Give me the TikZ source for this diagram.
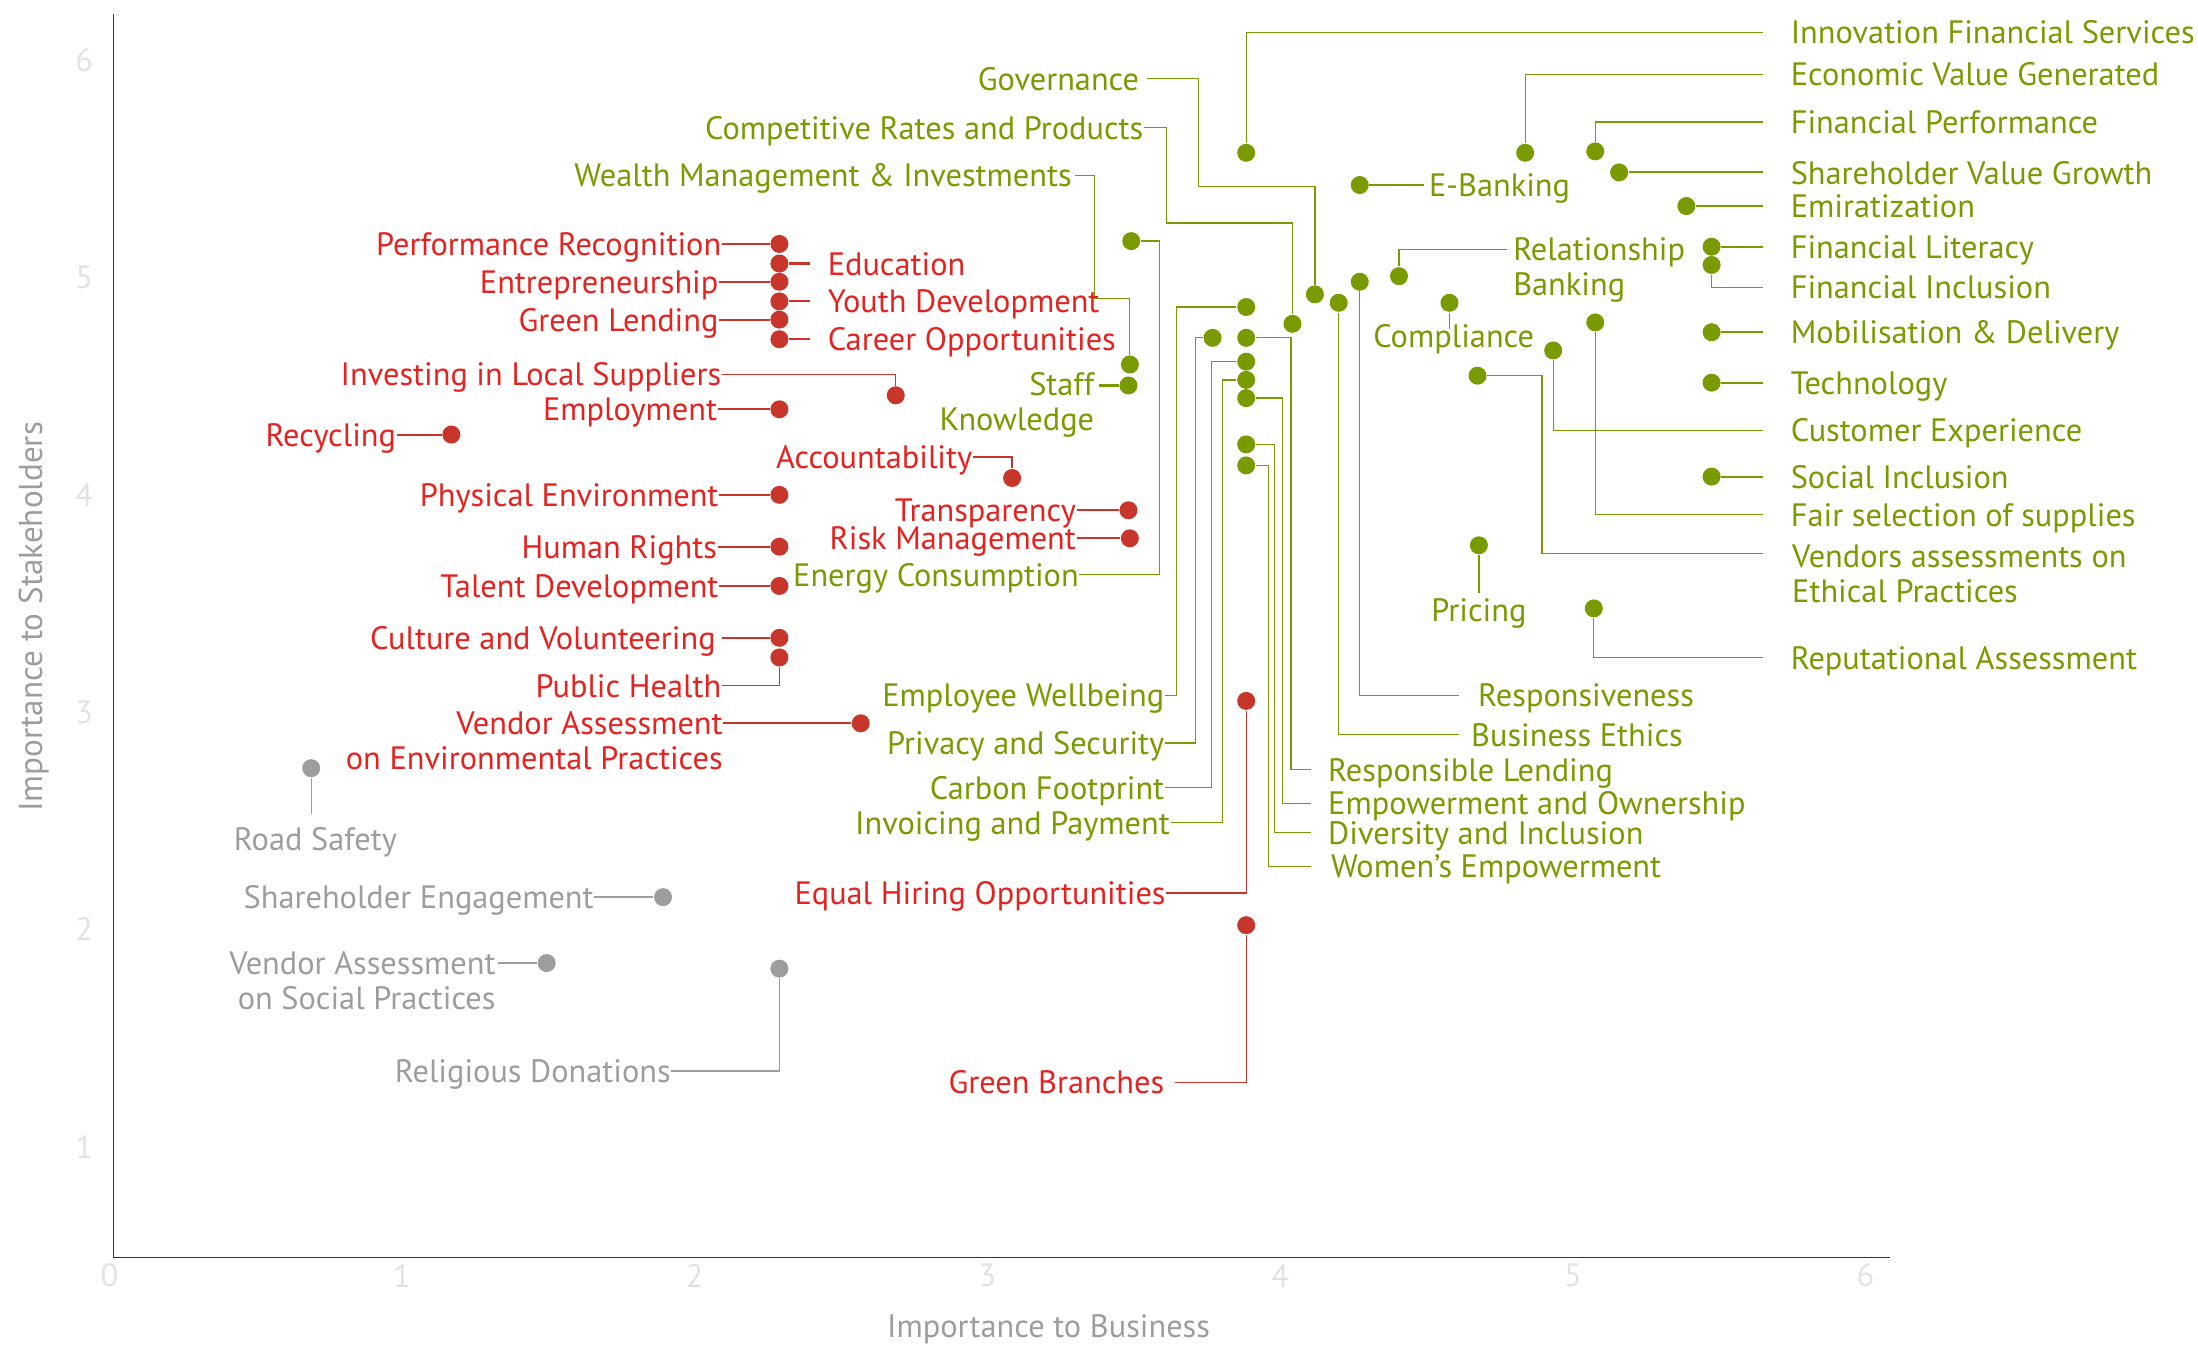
\documentclass[tikz,border=0pt]{standalone}
\usepackage{fontspec}
\setmainfont{PT Sans}
\usetikzlibrary{calc}
\definecolor{mgreen}{HTML}{7A9A01}
\definecolor{mred}{HTML}{E42320}
\definecolor{mreddot}{HTML}{C8352B}
\definecolor{mgray}{HTML}{9D9D9D}
\definecolor{mtick}{HTML}{E2E2E2}
\definecolor{maxis}{HTML}{26306B}
\begin{document}
\begin{tikzpicture}[x=0.014cm,y=-0.014cm,font=\fontsize{9.2pt}{10pt}\selectfont,
  every node/.style={inner sep=0pt},
  gdot/.style={circle,fill=mgreen,minimum size=0.18cm},
  rdot/.style={circle,fill=mreddot,minimum size=0.18cm},
  ydot/.style={circle,fill=mgray,minimum size=0.18cm},
  lab/.style={text height=8.6pt,text depth=2pt},
  glab/.style={lab,text=mgreen},
  rlab/.style={lab,text=mred},
  ylab/.style={lab,text=mgray},
  under/.style={text height=5pt},
  gline/.style={draw=mgreen,line width=0.35pt},
  gthick/.style={draw=mgreen,line width=0.6pt},
  rline/.style={draw=mreddot,line width=0.35pt},
  rthick/.style={draw=mreddot,line width=0.6pt},
  yline/.style={draw=mgray,line width=0.35pt},
  ythick/.style={draw=mgray,line width=0.6pt},
  tocol/.style={shorten >=0.27cm}]
\useasboundingbox (0,0) rectangle (1568,961);

% axes
\draw[maxis,line width=0.5pt] (81,10) |- (1348,897);
\foreach \v in {1,...,6} \node[text=mtick] (yt\v) at (60,973-155*\v) {\v};
\foreach \v in {0,...,6} \node[text=mtick] (xt\v) at (78+208.8*\v,910) {\v};
\node[text=mgray] (xtitle) at (748,948) {Importance to Business};
\node[text=mgray,rotate=90,font=\fontsize{9.4pt}{11pt}\selectfont] (ytitle) at (24,440) {Importance to Stakeholders};

% right column
\node[gdot] (innovD) at (889,109) {};
\node[glab,anchor=west] (innovL) at (1277,23) {Innovation Financial Services};
\draw[gline,tocol] (innovD) |- (innovL);
\node[gdot] (econD) at (1088,109) {};
\node[glab,anchor=west] (econL) at (1277,53) {Economic Value Generated};
\draw[gline,tocol] (econD) |- (econL);
\node[gdot] (finPerfD) at (1138,108) {};
\node[glab,anchor=west] (finPerfL) at (1277,87) {Financial Performance};
\draw[gline,tocol] (finPerfD) |- (finPerfL);
\node[gdot] (shareD) at (1155,123) {};
\node[glab,anchor=west] (shareL) at (1277,123) {Shareholder Value Growth};
\draw[gthick,tocol] (shareD) -- (shareL);
\node[gdot] (emirD) at (1203,147) {};
\node[glab,anchor=west] (emirL) at (1277,147) {Emiratization};
\draw[gthick,tocol] (emirD) -- (emirL);
\node[gdot] (finLitD) at (1221,176) {};
\node[glab,anchor=west] (finLitL) at (1277,176) {Financial Literacy};
\draw[gthick,tocol] (finLitD) -- (finLitL);
\node[gdot] (finInD) at (1221,189) {};
\node[glab,anchor=west] (finInL) at (1277,205) {Financial Inclusion};
\draw[gline,tocol] (finInD) |- (finInL);
\node[gdot] (mobD) at (1221,237) {};
\node[glab,anchor=west] (mobL) at (1277,237) {Mobilisation \& Delivery};
\draw[gthick,tocol] (mobD) -- (mobL);
\node[gdot] (techD) at (1221,273) {};
\node[glab,anchor=west] (techL) at (1277,273) {Technology};
\draw[gthick,tocol] (techD) -- (techL);
\node[gdot] (custD) at (1108,250) {};
\node[glab,anchor=west] (custL) at (1277,307) {Customer Experience};
\draw[gline,tocol] (custD) |- (custL);
\node[gdot] (socD) at (1221,340) {};
\node[glab,anchor=west] (socL) at (1277,340) {Social Inclusion};
\draw[gthick,tocol] (socD) -- (socL);
\node[gdot] (fairD) at (1138,230) {};
\node[glab,anchor=west] (fairL) at (1277,367) {Fair selection of supplies};
\draw[gline,tocol] (fairD) |- (fairL);
\node[gdot] (vendEthD) at (1054,268) {};
\node[text=mgreen,align=left,anchor=base west] (vendEthL) at (1278,430) {Vendors assessments on\\Ethical Practices};
\draw[gline] (vendEthD) -| (1100,395) -- ($(vendEthL.base west)+(-20,-35)$);
\node[gdot] (repD) at (1137,434) {};
\node[glab,anchor=west] (repL) at (1277,469) {Reputational Assessment};
\draw[gline,tocol] (repD) |- (repL);

% middle green
\node[gdot] (ebD) at (970,132) {};
\node[glab,anchor=west] (ebL) at (1019,132) {E-Banking};
\draw[gthick,shorten >=0.04cm] (ebD) -- (ebL);
\node[gdot] (relD) at (998,197) {};
\node[text=mgreen,align=left,anchor=base west] (relL) at (1079,211) {Relationship\\Banking};
\draw[gline] (relD) |- ($(relL.base west)+(-4,-33)$);
\node[gdot] (compD) at (1034,216) {};
\node[glab,under,anchor=north] (compL) at (1037,235) {Compliance};
\draw[gline] (compD) -- (compD |- compL.north);
\node[gdot] (priceD) at (1055,389) {};
\node[glab,under,anchor=north] (priceL) at (1055,430) {Pricing};
\draw[gline,shorten >=0.1cm] (priceD) -- (priceL);
\node[gdot] (respD) at (970,201) {};
\node[glab,anchor=west] (respL) at (1054,496) {Responsiveness};
\draw[gline,shorten >=0.18cm] (respD) |- (respL);
\node[gdot] (ethD) at (955,216) {};
\node[glab,anchor=west] (ethL) at (1049,524) {Business Ethics};
\draw[gline,shorten >=0.11cm] (ethD) |- (ethL);
\node[gdot] (govD) at (938,210) {};
\node[glab,anchor=east] (govL) at (813,56) {Governance};
\draw[gline,shorten <=0.07cm] (govL) -| (855,133) -| (govD);
\node[gdot] (crD) at (922,231) {};
\node[glab,anchor=east] (crL) at (816,91) {Competitive Rates and Products};
\draw[gline] (crL) -| (832,159) -| (crD);
\node[gdot] (wmD) at (806,260) {};
\node[glab,anchor=east] (wmL) at (765,125) {Wealth Management \& Investments};
\draw[gline,shorten <=0.03cm] (wmL) -| (781,213) -| (wmD);
\node[gdot] (stD) at (805,275) {};
\node[text=mgreen,align=right,anchor=base east] (stL) at (781,307) {Staff\\Knowledge};
\draw[gthick] ($(stL.base east)+(3,-32)$) -- (stD);
\node[gdot] (enD) at (807,172) {};
\node[glab,anchor=east] (enL) at (770,410) {Energy Consumption};
\draw[gline] (enL) -| (827,172) -- (enD);
\node[gdot] (ewD) at (889,219) {};
\node[glab,anchor=east] (ewL) at (831,496) {Employee Wellbeing};
\draw[gline] (ewL) -| (839,219) -- (ewD);
\node[gdot] (psD) at (865,241) {};
\node[glab,anchor=east] (psL) at (831,530) {Privacy and Security};
\draw[gline] (psL) -| (853,241) -- (psD);
\node[gdot] (cfD) at (889,258) {};
\node[glab,anchor=east] (cfL) at (831,562) {Carbon Footprint};
\draw[gline] (cfL) -| (864,258) -- (cfD);
\node[gdot] (ipD) at (889,271) {};
\node[glab,anchor=east] (ipL) at (835,587) {Invoicing and Payment};
\draw[gline] (ipL) -| (872,271) -- (ipD);
\node[gdot] (rlD) at (889,241) {};
\node[glab,anchor=west] (rlL) at (947,549) {Responsible Lending};
\draw[gline,shorten >=0.17cm] (rlD) -| (921,549) -- (rlL);
\node[gdot] (eoD) at (889,284) {};
\node[glab,anchor=west] (eoL) at (947,573) {Empowerment and Ownership};
\draw[gline,shorten >=0.17cm] (eoD) -| (915,573) -- (eoL);
\node[gdot] (diD) at (889,317) {};
\node[glab,anchor=west] (diL) at (947,594) {Diversity and Inclusion};
\draw[gline,shorten >=0.17cm] (diD) -| (909,594) -- (diL);
\node[gdot] (weD) at (889,332) {};
\node[glab,anchor=west] (weL) at (949,618) {Women’s Empowerment};
\draw[gline,shorten >=0.19cm] (weD) -| (905,618) -- (weL);

% red
\node[rdot] (perfD) at (556,174) {};
\node[rlab,anchor=east] (perfL) at (515,174) {Performance Recognition};
\draw[rthick] (perfL) -- (perfD);
\node[rdot] (eduD) at (556,188) {};
\node[rlab,anchor=west] (eduL) at (590,188) {Education};
\draw[rthick,shorten >=0.17cm] (eduD) -- (eduL);
\node[rdot] (entD) at (556,201) {};
\node[rlab,anchor=east] (entL) at (513,201) {Entrepreneurship};
\draw[rthick] (entL) -- (entD);
\node[rdot] (youthD) at (556,215) {};
\node[rlab,anchor=west] (youthL) at (590,215) {Youth Development};
\draw[rthick,shorten >=0.17cm] (youthD) -- (youthL);
\node[rdot] (glD) at (556,228) {};
\node[rlab,anchor=east] (glL) at (513,228) {Green Lending};
\draw[rthick] (glL) -- (glD);
\node[rdot] (carD) at (556,242) {};
\node[rlab,anchor=west] (carL) at (590,242) {Career Opportunities};
\draw[rthick,shorten >=0.17cm] (carD) -- (carL);
\node[rdot] (ilsD) at (639,282) {};
\node[rlab,anchor=east] (ilsL) at (515,267) {Investing in Local Suppliers};
\draw[rline] (ilsL) -| (ilsD);
\node[rdot] (empD) at (556,292) {};
\node[rlab,anchor=east] (empL) at (512,292) {Employment};
\draw[rthick] (empL) -- (empD);
\node[rdot] (recD) at (322,310) {};
\node[rlab,anchor=east] (recL) at (283,310) {Recycling};
\draw[rthick] (recL) -- (recD);
\node[rdot] (accD) at (722,341) {};
\node[rlab,anchor=east] (accL) at (694,326) {Accountability};
\draw[rline] (accL) -| (accD);
\node[rdot] (peD) at (556,353) {};
\node[rlab,anchor=east] (peL) at (513,353) {Physical Environment};
\draw[rthick] (peL) -- (peD);
\node[rdot] (trD) at (805,364) {};
\node[rlab,anchor=east] (trL) at (768,364) {Transparency};
\draw[rthick] (trL) -- (trD);
\node[rdot] (rmD) at (806,384) {};
\node[rlab,anchor=east] (rmL) at (768,384) {Risk Management};
\draw[rthick] (rmL) -- (rmD);
\node[rdot] (hrD) at (556,390) {};
\node[rlab,anchor=east] (hrL) at (512,390) {Human Rights};
\draw[rthick] (hrL) -- (hrD);
\node[rdot] (tdD) at (556,418) {};
\node[rlab,anchor=east] (tdL) at (513,418) {Talent Development};
\draw[rthick] (tdL) -- (tdD);
\node[rdot] (cvD) at (556,455) {};
\node[rlab,anchor=east] (cvL) at (511,455) {Culture and Volunteering};
\draw[rthick,shorten <=0.06cm] (cvL) -- (cvD);
\node[rdot] (phD) at (556,469) {};
\node[rlab,anchor=east] (phL) at (515,489) {Public Health};
\draw[rline] (phL) -| (phD);
\node[rdot] (veD) at (614,516) {};
\node[text=mred,align=right,anchor=base east] (veL) at (516,549) {Vendor Assessment\\on Environmental Practices};
\draw[rthick] ($(veL.base east)+(0,-33)$) -- (veD);
\node[rdot] (ehD) at (889,500) {};
\node[rlab,anchor=east] (ehL) at (832,637) {Equal Hiring Opportunities};
\draw[rline] (ehL) -| (ehD);
\node[rdot] (gbD) at (889,660) {};
\node[rlab,anchor=east] (gbL) at (831,772) {Green Branches};
\draw[rline,shorten <=0.1cm] (gbL) -| (gbD);

% gray
\node[ydot] (rsD) at (222,548) {};
\node[ylab,under,anchor=north] (rsL) at (225,594) {Road Safety};
\draw[yline,shorten >=0.19cm] (rsD) -- (rsD |- rsL.north);
\node[ydot] (seD) at (473,640) {};
\node[ylab,anchor=east] (seL) at (424,640) {Shareholder Engagement};
\draw[ythick] (seL) -- (seD);
\node[ydot] (vsD) at (390,687) {};
\node[text=mgray,align=right,anchor=base east] (vsL) at (354,720) {Vendor Assessment\\on Social Practices};
\draw[ythick] ($(vsL.base east)+(1,-33)$) -- (vsD);
\node[ydot] (rdD) at (556,691) {};
\node[ylab,anchor=east] (rdL) at (479,764) {Religious Donations};
\draw[yline] (rdL) -| (rdD);
\end{tikzpicture}
\end{document}
